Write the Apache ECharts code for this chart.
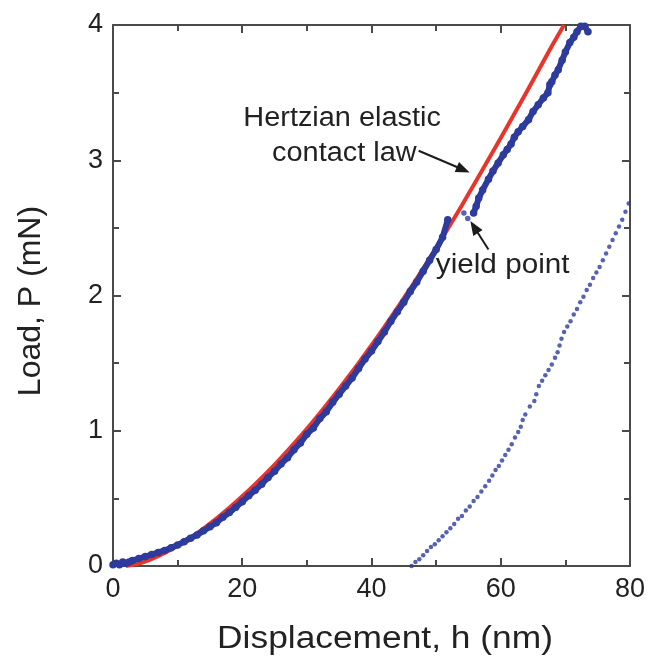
<!DOCTYPE html>
<html>
<head>
<meta charset="utf-8">
<script src="https://cdn.jsdelivr.net/npm/echarts@6/dist/echarts.min.js"></script>
<style>
  html, body { margin: 0; padding: 0; background: #fff; }
  #chart { width: 648px; height: 661px; }
</style>
</head>
<body>
<div id="chart"></div>
<script>
// Hertzian elastic contact law (fitted curve), displacement h (nm) vs load P (mN)
const hertzH = [2, 4, 6, 8, 10, 12, 14, 16, 18, 20, 22, 24, 26, 28, 30, 32, 34, 36, 38, 40,
                42, 44, 46, 48, 50, 52, 54, 56, 58, 60, 62, 64, 66, 68, 69.8];
const hertzP = [0, 0.018, 0.053, 0.097, 0.150, 0.210, 0.277, 0.350, 0.430, 0.515, 0.605, 0.700,
                0.800, 0.905, 1.015, 1.130, 1.250, 1.373, 1.500, 1.632, 1.768, 1.908, 2.052,
                2.200, 2.352, 2.508, 2.668, 2.832, 2.998, 3.165, 3.334, 3.505, 3.678, 3.852, 4.0];

// Measured loading data up to the yield point
const loadH = [0, 0.5, 1, 1.5, 2, 2.5, 3, 4, 5, 6, 7, 8, 9, 10, 11, 12, 13, 14, 15, 16, 17, 18,
               19, 20, 21, 22, 23, 24, 25, 26, 27, 28, 29, 30, 31, 32, 33, 34, 35, 36, 37, 38,
               39, 40, 41, 42, 43, 44, 45, 46, 47, 48, 49, 50, 51, 51.8];
const loadP = [0.01, 0.02, 0.01, 0.03, 0.02, 0.03, 0.04, 0.055, 0.07, 0.085, 0.10, 0.115, 0.135,
               0.155, 0.18, 0.205, 0.23, 0.26, 0.29, 0.32, 0.36, 0.395, 0.435, 0.475, 0.52,
               0.56, 0.605, 0.655, 0.70, 0.755, 0.80, 0.86, 0.91, 0.975, 1.02, 1.09, 1.14,
               1.21, 1.27, 1.33, 1.39, 1.46, 1.53, 1.59, 1.66, 1.73, 1.81, 1.88, 1.95, 2.03,
               2.10, 2.18, 2.26, 2.34, 2.43, 2.56];

// Isolated points during the pop-in at the yield point
const popH = [54.3, 54.9];
const popP = [2.61, 2.57];

// Loading continued after yield
const postH = [55.8, 56.2, 56.6, 57.2, 58.1, 58.8, 59.6, 60.4, 61.0, 61.6, 62.1, 62.7, 63.4,
               64.3, 65.0, 65.8, 66.6, 67.3, 67.6, 67.9, 68.4, 68.9, 69.5, 70.0, 70.7, 71.3,
               71.8, 72.4, 73.0, 73.5];
const postP = [2.61, 2.66, 2.72, 2.78, 2.86, 2.92, 2.98, 3.04, 3.08, 3.12, 3.17, 3.21, 3.25,
               3.30, 3.36, 3.41, 3.46, 3.50, 3.56, 3.58, 3.63, 3.67, 3.74, 3.80, 3.87, 3.91,
               3.95, 3.99, 3.99, 3.95];

// Unloading data
const unloadH = [46.2, 46.8, 47.4, 48.0, 48.6, 49.2, 49.8, 50.4, 51.0, 51.6, 52.2, 52.8, 53.4,
                 54.0, 54.6, 55.2, 55.8, 56.4, 57.0, 57.6, 58.2, 58.7, 59.2, 59.7, 60.2, 60.7,
                 61.2, 61.7, 62.2, 62.7, 63.1, 63.4, 63.8, 64.5, 65.2, 65.5, 65.9, 66.4, 66.9,
                 67.4, 67.9, 68.4, 68.8, 69.1, 69.4, 69.8, 70.3, 70.8, 71.3, 71.8, 72.3, 72.8,
                 73.3, 73.8, 74.3, 74.8, 75.3, 75.8, 76.3, 76.8, 77.3, 77.8, 78.3, 78.8, 79.3,
                 79.8];
const unloadP = [0.00, 0.03, 0.05, 0.08, 0.11, 0.14, 0.16, 0.19, 0.22, 0.25, 0.28, 0.31, 0.35,
                 0.37, 0.41, 0.44, 0.48, 0.51, 0.55, 0.59, 0.63, 0.67, 0.71, 0.74, 0.78, 0.82,
                 0.86, 0.90, 0.95, 0.99, 1.03, 1.08, 1.12, 1.18, 1.22, 1.27, 1.33, 1.37, 1.41,
                 1.45, 1.49, 1.54, 1.58, 1.63, 1.68, 1.73, 1.77, 1.81, 1.86, 1.90, 1.95, 1.99,
                 2.04, 2.08, 2.13, 2.17, 2.21, 2.26, 2.31, 2.36, 2.41, 2.46, 2.51, 2.56, 2.62,
                 2.68];

const xTicks = { min: 0, max: 80, interval: 20 };
const yTicks = { min: 0, max: 4, interval: 1 };

const FONT = '"Liberation Sans", Arial, Helvetica, sans-serif';
const AXIS_COLOR = '#4a4a4a';
const TEXT_COLOR = '#222222';
const BLUE = '#2d3b9c';
const RED = '#e8352b';

const zip = (a, b) => a.map((v, i) => [v, b[i]]);

function axisStyle(showLabels) {
  return {
    axisLine: { show: true, onZero: false, lineStyle: { color: AXIS_COLOR, width: 2 } },
    axisTick: { show: true, inside: true, length: 8, lineStyle: { color: AXIS_COLOR, width: 2 } },
    minorTick: { show: true, splitNumber: 2, length: 6, lineStyle: { color: AXIS_COLOR, width: 2 } },
    splitLine: { show: false }, minorSplitLine: { show: false },
    axisLabel: { show: showLabels, fontSize: 27, color: TEXT_COLOR, fontFamily: FONT, margin: 10 }
  };
}
function makeX(pos, showLabels) {
  return Object.assign({ type: 'value', position: pos, min: xTicks.min, max: xTicks.max,
                         interval: xTicks.interval }, axisStyle(showLabels));
}
function makeY(pos, showLabels) {
  return Object.assign({ type: 'value', position: pos, min: yTicks.min, max: yTicks.max,
                         interval: yTicks.interval }, axisStyle(showLabels));
}

const chart = echarts.init(document.getElementById('chart'), null, { renderer: 'canvas' });

chart.setOption({
  animation: false,
  backgroundColor: '#ffffff',
  grid: { left: 113, right: 16, top: 25, bottom: 95, containLabel: false },
  xAxis: [makeX('bottom', true), makeX('top', false)],
  yAxis: [makeY('left', true), makeY('right', false)],
  series: [
    {
      name: 'Hertzian', type: 'line', data: zip(hertzH, hertzP), smooth: 0.3,
      symbol: 'none', lineStyle: { color: RED, width: 4 }, clip: true, z: 3
    },
    {
      name: 'unloading', type: 'scatter', data: zip(unloadH, unloadP),
      symbol: 'circle', symbolSize: 4.5, itemStyle: { color: BLUE }, clip: true, z: 4
    },
    {
      name: 'loading', type: 'line', data: zip(loadH, loadP),
      symbol: 'circle', symbolSize: 7.5, showSymbol: true, showAllSymbol: true,
      lineStyle: { color: BLUE, width: 6 }, itemStyle: { color: BLUE }, clip: true, z: 4
    },
    {
      name: 'pop-in', type: 'scatter', data: zip(popH, popP),
      symbol: 'circle', symbolSize: 5.5, itemStyle: { color: BLUE }, z: 4
    },
    {
      name: 'post-yield', type: 'line', data: zip(postH, postP),
      symbol: 'circle', symbolSize: 7.5, showSymbol: true, showAllSymbol: true,
      lineStyle: { color: BLUE, width: 6 }, itemStyle: { color: BLUE }, clip: true, z: 4
    }
  ]
});

// Annotations placed in data coordinates
const labels = [
  { text: 'Hertzian elastic', at: [35.45, 3.31], size: 27, sx: 1.07 },
  { text: 'contact law', at: [35.8, 3.05], size: 27, sx: 1.07 },
  { text: 'yield point', at: [60.3, 2.22], size: 27, sx: 1.1 }
];
const arrows = [
  { from: [47.3, 3.07], to: [55.2, 2.91] },
  { from: [58.1, 2.34], to: [55.3, 2.55] }
];

const px = p => chart.convertToPixel({ xAxisIndex: 0, yAxisIndex: 0 }, p);

const graphics = [];
labels.forEach(l => {
  const [x, y] = px(l.at);
  graphics.push({
    type: 'text', x: x, y: y, scaleX: l.sx, z: 10,
    style: { text: l.text, fill: TEXT_COLOR, font: l.size + 'px ' + FONT,
             textAlign: 'center', textVerticalAlign: 'middle' }
  });
});
arrows.forEach(a => {
  const [x1, y1] = px(a.from);
  const [x2, y2] = px(a.to);
  const dx = x2 - x1, dy = y2 - y1, len = Math.hypot(dx, dy);
  const ux = dx / len, uy = dy / len;
  const head = 14, half = 5.5;
  const bx = x2 - ux * head, by = y2 - uy * head;
  graphics.push({
    type: 'line', z: 10,
    shape: { x1: x1, y1: y1, x2: bx + ux * 2, y2: by + uy * 2 },
    style: { stroke: '#1c1c1c', lineWidth: 2 }
  });
  graphics.push({
    type: 'polygon', z: 10,
    shape: { points: [[x2, y2], [bx - uy * half, by + ux * half], [bx + uy * half, by - ux * half]] },
    style: { fill: '#1c1c1c' }
  });
});

// Axis titles
graphics.push({
  type: 'text', x: 385, y: 639, scaleX: 1.14, z: 10,
  style: { text: 'Displacement, h (nm)', fill: TEXT_COLOR, font: '31px ' + FONT,
           textAlign: 'center', textVerticalAlign: 'middle' }
});
graphics.push({
  type: 'text', x: 31, y: 301, rotation: Math.PI / 2, z: 10,
  style: { text: 'Load, P (mN)', fill: TEXT_COLOR, font: '32px ' + FONT,
           textAlign: 'center', textVerticalAlign: 'middle' }
});

chart.setOption({ graphic: graphics });
</script>
</body>
</html>
